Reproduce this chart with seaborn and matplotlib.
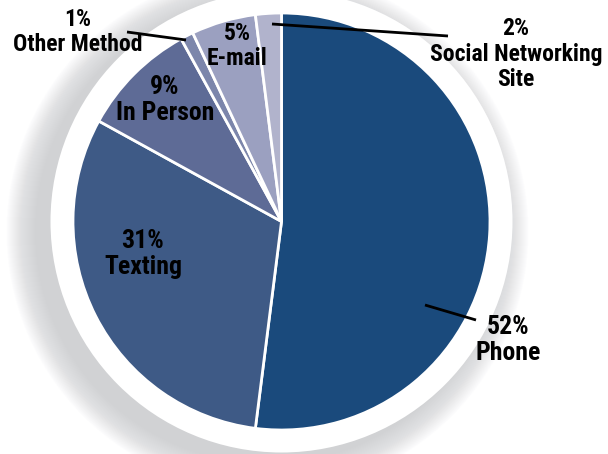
import matplotlib
matplotlib.use("Agg")
import matplotlib.pyplot as plt
import seaborn as sns
from matplotlib.patches import Circle

# data, clockwise from the top
categories = ["Phone", "Texting", "In Person", "Other Method", "E-mail", "Social Networking\nSite"]
shares = [52, 31, 9, 1, 5, 2]
colors = ["#1a4a7c", "#3e5a86", "#5e6b96", "#7c86ab", "#9ba0c0", "#b1b3cc"]

sns.set_style("white")
plt.rcParams['font.family'] = ['Roboto Condensed', 'Open Sans Condensed', 'DejaVu Sans']
plt.rcParams['font.stretch'] = 'condensed'

W, H = 608, 454
fig = plt.figure(figsize=(6.08, 4.54), dpi=100)
ax = fig.add_axes([0, 0, 1, 1])

def py(y):
    # pixel row -> data y
    return H - y

cx, cy, r = 281.5, py(221.5), 208.5

# soft grey shadow behind a white disc
for i in range(30):
    ax.add_patch(Circle((cx - 14, cy - 10), 231 + 30 - i, color="#c4c6ca", alpha=0.035, lw=0, zorder=0))
ax.add_patch(Circle((cx, cy), 231, color="white", lw=0, zorder=0.5))

ax.pie(shares, colors=colors, startangle=90, counterclock=False,
       center=(cx, cy), radius=r,
       wedgeprops=dict(edgecolor="white", linewidth=2))

# labels (text anchor in pixel coords, leader line or None)
labels = [
    (f"{shares[0]}%\n{categories[0]}", 508, 340, 18.5, [(425, 305), (476, 320)]),
    (f"{shares[1]}%\n{categories[1]}", 143, 254, 18.5, None),
    (f"{shares[2]}%\n{categories[2]}", 165, 100, 18.5, None),
    (f"{shares[3]}%\n{categories[3]}", 78, 32, 17, [(127, 32), (186, 40)]),
    (f"{shares[4]}%\n{categories[4]}", 237, 46, 17, None),
    (f"{shares[5]}%\n{categories[5]}", 516, 54, 17, [(272, 24), (448, 36)]),
]
for txt, x, y, fs, line in labels:
    ax.text(x, py(y), txt, ha="center", va="center", fontsize=fs,
            fontweight="bold", color="black", linespacing=1.15, zorder=5)
    if line:
        (x0, y0), (x1, y1) = line
        ax.plot([x0, x1], [py(y0), py(y1)], color="black", lw=2, zorder=4,
                solid_capstyle="butt")

ax.set_xlim(0, W)
ax.set_ylim(0, H)
ax.set_aspect("equal")
ax.axis("off")

fig.savefig("out.png", dpi=100)
